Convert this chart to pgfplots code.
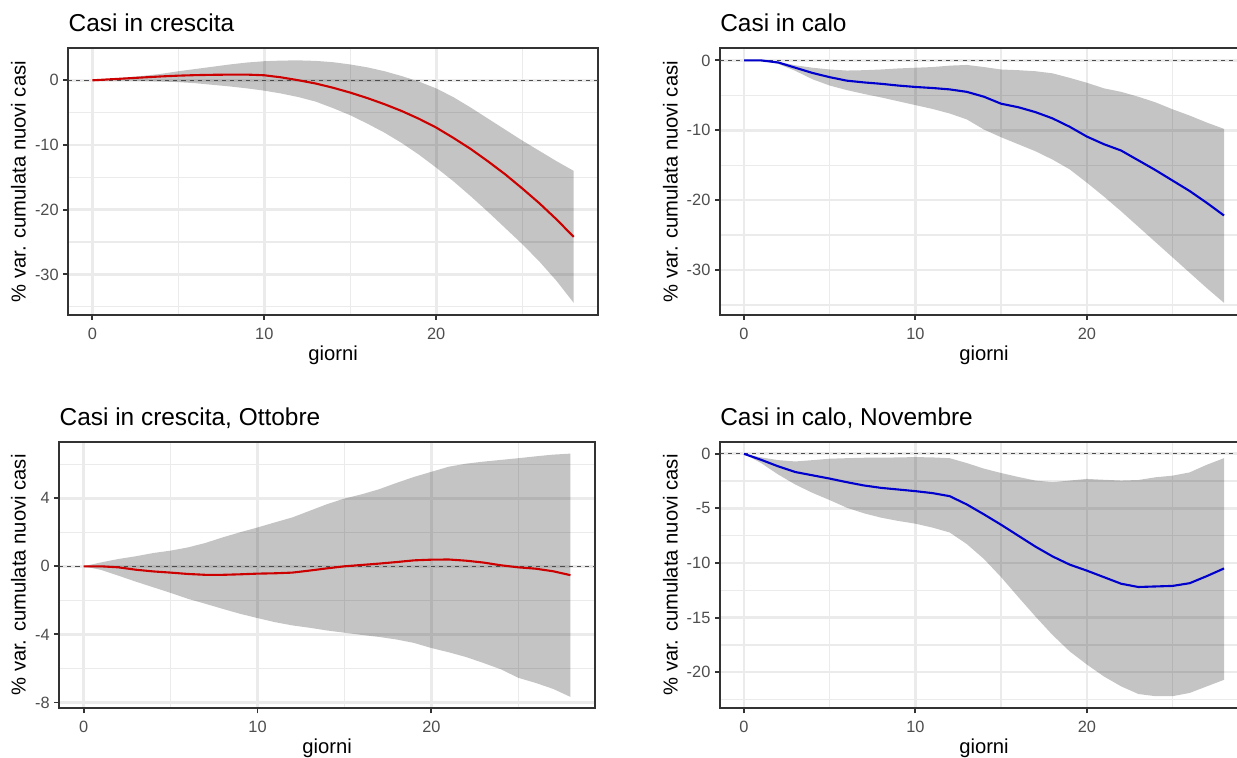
\documentclass[border=0pt]{standalone}
\usepackage{fontspec}
\setmainfont{Liberation Sans}
\usepackage{pgfplots}
\usepackage{pgfplotstable}
\pgfplotsset{compat=1.18}
\usepgfplotslibrary{fillbetween}

\definecolor{gridc}{HTML}{EBEBEB}
\definecolor{framec}{HTML}{333333}
\definecolor{tickc}{HTML}{4D4D4D}
\definecolor{redc}{RGB}{205,0,0}
\definecolor{bluec}{RGB}{0,0,205}

\newcommand{\titlefont}{\fontsize{13.9}{16}\selectfont}
\newcommand{\labfont}{\fontsize{11.5}{13}\selectfont}
\newcommand{\tickfont}{\fontsize{9.3}{11}\selectfont}

% d = giorni, fit = stima, lo/hi = banda
\pgfplotstableread{
d fit lo hi
0 0 0 0
1 0.15 -0.02 0.2
2 0.3 -0.05 0.45
3 0.45 -0.1 0.7
4 0.6 -0.18 1.0
5 0.72 -0.28 1.4
6 0.8 -0.45 1.75
7 0.85 -0.7 2.1
8 0.88 -0.95 2.45
9 0.88 -1.25 2.75
10 0.78 -1.6 2.95
11 0.45 -2.05 3.05
12 0.0 -2.6 3.08
13 -0.5 -3.3 3.0
14 -1.15 -4.3 2.8
15 -1.9 -5.4 2.45
16 -2.75 -6.7 2.0
17 -3.7 -8.1 1.4
18 -4.75 -9.7 0.65
19 -5.95 -11.5 -0.2
20 -7.3 -13.5 -1.25
21 -8.9 -15.6 -2.6
22 -10.6 -17.9 -4.2
23 -12.5 -20.3 -5.9
24 -14.5 -22.8 -7.6
25 -16.7 -25.3 -9.3
26 -19.0 -28.0 -10.9
27 -21.5 -31.0 -12.5
28 -24.2 -34.4 -14.0
}\crescita

\pgfplotstableread{
d fit lo hi
0 0 0 0
1 0 0 0
2 -0.3 -0.5 -0.2
3 -1.05 -1.5 -0.7
4 -1.8 -2.7 -1.05
5 -2.4 -3.6 -1.3
6 -2.9 -4.25 -1.45
7 -3.15 -4.8 -1.4
8 -3.35 -5.3 -1.3
9 -3.6 -5.85 -1.15
10 -3.8 -6.4 -1.05
11 -3.95 -6.95 -0.95
12 -4.15 -7.6 -0.75
13 -4.5 -8.45 -0.65
14 -5.2 -9.9 -0.95
15 -6.2 -11.0 -1.3
16 -6.7 -12.0 -1.4
17 -7.4 -13.0 -1.55
18 -8.3 -14.2 -1.85
19 -9.5 -15.6 -2.5
20 -10.9 -17.5 -3.2
21 -12.0 -19.5 -4.0
22 -12.9 -21.6 -4.5
23 -14.3 -23.8 -5.2
24 -15.7 -26.0 -6.0
25 -17.2 -28.2 -7.0
26 -18.7 -30.4 -7.9
27 -20.4 -32.6 -8.9
28 -22.2 -34.7 -9.8
}\calo

\pgfplotstableread{
d fit lo hi
0 0 0 0
1 0 -0.21 0.23
2 -0.06 -0.55 0.43
3 -0.2 -0.9 0.59
4 -0.3 -1.23 0.78
5 -0.37 -1.56 0.92
6 -0.45 -1.91 1.11
7 -0.5 -2.2 1.37
8 -0.5 -2.5 1.7
9 -0.47 -2.79 2.0
10 -0.43 -3.04 2.28
11 -0.41 -3.28 2.58
12 -0.37 -3.47 2.87
13 -0.25 -3.61 3.26
14 -0.12 -3.77 3.65
15 0 -3.9 3.98
16 0.08 -4.03 4.23
17 0.16 -4.15 4.53
18 0.25 -4.3 4.9
19 0.35 -4.5 5.25
20 0.39 -4.8 5.55
21 0.4 -5.05 5.85
22 0.33 -5.33 6.03
23 0.22 -5.68 6.15
24 0.06 -6.05 6.25
25 -0.06 -6.55 6.35
26 -0.14 -6.85 6.46
27 -0.29 -7.2 6.56
28 -0.52 -7.67 6.62
}\ottobre

\pgfplotstableread{
d fit lo hi
0 0 0 0
1 -0.55 -0.85 -0.33
2 -1.15 -1.9 -0.58
3 -1.67 -2.82 -0.7
4 -1.97 -3.58 -0.58
5 -2.27 -4.24 -0.45
6 -2.6 -4.94 -0.4
7 -2.9 -5.45 -0.36
8 -3.12 -5.85 -0.36
9 -3.27 -6.15 -0.33
10 -3.42 -6.4 -0.3
11 -3.6 -6.76 -0.33
12 -3.88 -7.21 -0.4
13 -4.64 -8.27 -0.85
14 -5.55 -9.64 -1.36
15 -6.5 -11.3 -1.76
16 -7.5 -13.12 -2.12
17 -8.5 -14.9 -2.45
18 -9.4 -16.6 -2.6
19 -10.15 -18.1 -2.45
20 -10.7 -19.3 -2.3
21 -11.3 -20.4 -2.38
22 -11.9 -21.3 -2.45
23 -12.2 -22.0 -2.4
24 -12.15 -22.2 -2.15
25 -12.1 -22.2 -2.0
26 -11.85 -21.9 -1.7
27 -11.2 -21.3 -1.0
28 -10.5 -20.7 -0.4
}\novembre

\pgfplotsset{
  panel/.style={
    scale only axis,
    xmin=-1.4, xmax=29.4,
    xtick={0,10,20}, minor xtick={5,15,25},
    grid=both,
    major grid style={draw=gridc, line width=1.5pt},
    minor grid style={draw=gridc, line width=0.75pt},
    axis line style={draw=framec, line width=1.1pt},
    tick align=outside, tick pos=left,
    major tick length=0.1cm, minor tick length=0pt,
    tick style={draw=framec, line width=1.1pt},
    ticklabel style={font=\tickfont, text=tickc, inner sep=0pt},
    xticklabel shift=0.15cm, yticklabel shift=0.086cm,
    /pgf/number format/assume math mode=true,
    every axis title shift=0pt,
    title style={anchor=base west, inner sep=0pt, font=\titlefont},
    xlabel={giorni},
    xlabel style={at={(0.5,-0.1688)}, anchor=base, inner sep=0pt, font=\labfont},
    ylabel={\% var. cumulata nuovi casi},
    ylabel style={anchor=center, inner sep=0pt, font=\labfont},
  },
  zeroline/.style={draw=black!70, line width=0.7pt, dash pattern=on 2.3pt off 2.3pt},
}

\begin{document}
\begin{tikzpicture}

\begin{axis}[panel, at={(1.366cm,8.86cm)}, anchor=south west,
  width=10.59cm, height=5.334cm,
  ymin=-36.27, ymax=4.95, ytick={-30,-20,-10,0}, minor ytick={-35,-25,-15,-5},
  title={Casi in crescita}, title style={at={(0,1.0619)}},
  ylabel style={at={(-0.0941,0.5)}}]
\addplot[name path=hi, draw=none] table[x=d,y=hi]{\crescita};
\addplot[name path=lo, draw=none] table[x=d,y=lo]{\crescita};
\addplot[fill=black, fill opacity=0.23, draw=none] fill between[of=hi and lo];
\addplot[zeroline] coordinates {(-1.4,0) (29.4,0)};
\addplot[redc, line width=1.2pt] table[x=d,y=fit]{\crescita};
\end{axis}

\begin{axis}[panel, at={(14.40cm,8.86cm)}, anchor=south west,
  width=10.56cm, height=5.334cm,
  ymin=-36.44, ymax=1.735, ytick={-30,-20,-10,0}, minor ytick={-35,-25,-15,-5},
  title={Casi in calo}, title style={at={(0,1.0619)}},
  ylabel style={at={(-0.0938,0.5)}}]
\addplot[name path=hi, draw=none] table[x=d,y=hi]{\calo};
\addplot[name path=lo, draw=none] table[x=d,y=lo]{\calo};
\addplot[fill=black, fill opacity=0.23, draw=none] fill between[of=hi and lo];
\addplot[zeroline] coordinates {(-1.4,0) (29.4,0)};
\addplot[bluec, line width=1.2pt] table[x=d,y=fit]{\calo};
\end{axis}

\begin{axis}[panel, at={(1.186cm,0.994cm)}, anchor=south west,
  width=10.71cm, height=5.332cm,
  ymin=-8.34, ymax=7.32, ytick={-8,-4,0,4}, minor ytick={-6,-2,2,6},
  title={Casi in crescita, Ottobre}, title style={at={(0,1.0619)}},
  ylabel style={at={(-0.0762,0.5)}}]
\addplot[name path=hi, draw=none] table[x=d,y=hi]{\ottobre};
\addplot[name path=lo, draw=none] table[x=d,y=lo]{\ottobre};
\addplot[fill=black, fill opacity=0.23, draw=none] fill between[of=hi and lo];
\addplot[zeroline] coordinates {(-1.4,0) (29.4,0)};
\addplot[redc, line width=1.2pt] table[x=d,y=fit]{\ottobre};
\end{axis}

\begin{axis}[panel, at={(14.40cm,0.994cm)}, anchor=south west,
  width=10.56cm, height=5.332cm,
  ymin=-23.31, ymax=1.11, ytick={-20,-15,-10,-5,0}, minor ytick={-22.5,-17.5,-12.5,-7.5,-2.5},
  title={Casi in calo, Novembre}, title style={at={(0,1.0619)}},
  ylabel style={at={(-0.0938,0.5)}}]
\addplot[name path=hi, draw=none] table[x=d,y=hi]{\novembre};
\addplot[name path=lo, draw=none] table[x=d,y=lo]{\novembre};
\addplot[fill=black, fill opacity=0.23, draw=none] fill between[of=hi and lo];
\addplot[zeroline] coordinates {(-1.4,0) (29.4,0)};
\addplot[bluec, line width=1.2pt] table[x=d,y=fit]{\novembre};
\end{axis}

\pgfresetboundingbox
\useasboundingbox (0,0) rectangle (24.74,15.16);
\end{tikzpicture}
\end{document}
